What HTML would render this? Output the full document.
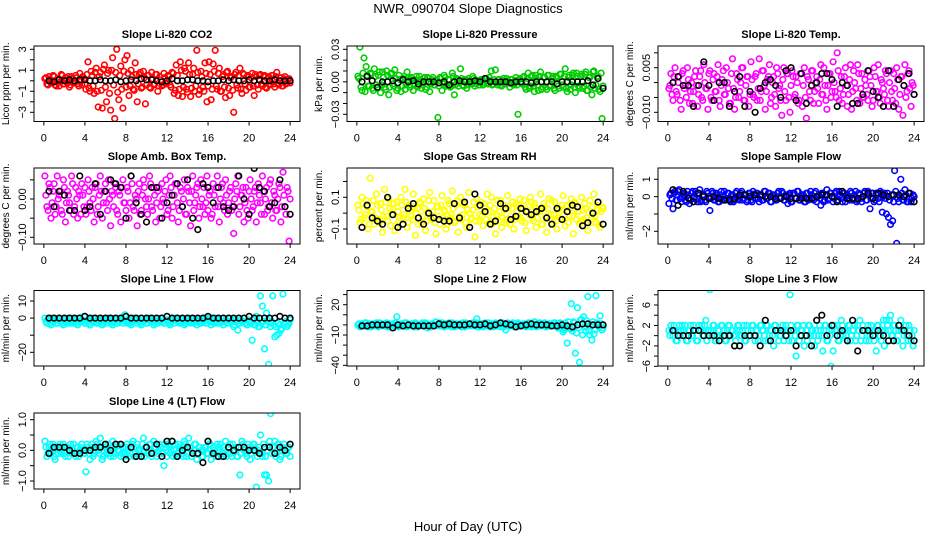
<!DOCTYPE html>
<html><head><meta charset="utf-8"><title>NWR_090704 Slope Diagnostics</title>
<style>
html,body{margin:0;padding:0;background:#fff;}
svg{display:block;font-family:"Liberation Sans",sans-serif;}
</style></head>
<body>
<svg id="chart" width="936" height="540" viewBox="0 0 936 540">
<text x="468" y="13" text-anchor="middle" font-size="13">NWR_090704  Slope Diagnostics</text>
<text x="468" y="531" text-anchor="middle" font-size="13">Hour of Day (UTC)</text>
</svg>
<script>
// shared time axes (hours UTC)
const hoursC = [0.1,0.3,0.5,0.7,0.9,1.1,1.3,1.5,1.7,1.9,2.1,2.3,2.5,2.7,2.9,3.1,3.3,3.5,3.7,3.9,
4.1,4.3,4.5,4.7,4.9,5.1,5.3,5.5,5.7,5.9,6.1,6.3,6.5,6.7,6.9,7.1,7.3,7.5,7.7,7.9,
8.1,8.3,8.5,8.7,8.9,9.1,9.3,9.5,9.7,9.9,10.1,10.3,10.5,10.7,10.9,11.1,11.3,11.5,11.7,11.9,
12.1,12.3,12.5,12.7,12.9,13.1,13.3,13.5,13.7,13.9,14.1,14.3,14.5,14.7,14.9,15.1,15.3,15.5,15.7,15.9,
16.1,16.3,16.5,16.7,16.9,17.1,17.3,17.5,17.7,17.9,18.1,18.3,18.5,18.7,18.9,19.1,19.3,19.5,19.7,19.9,
20.1,20.3,20.5,20.7,20.9,21.1,21.3,21.5,21.7,21.9,22.1,22.3,22.5,22.7,22.9,23.1,23.3,23.5,23.7,23.9];
const hoursB = [0.2,0.4,0.6,0.8,1,1.2,1.4,1.6,1.8,2,2.2,2.4,2.6,2.8,3,3.2,3.4,3.6,3.8,4,
4.2,4.4,4.6,4.8,5,5.2,5.4,5.6,5.8,6,6.2,6.4,6.6,6.8,7,7.2,7.4,7.6,7.8,8,
8.2,8.4,8.6,8.8,9,9.2,9.4,9.6,9.8,10,10.2,10.4,10.6,10.8,11,11.2,11.4,11.6,11.8,12,
12.2,12.4,12.6,12.8,13,13.2,13.4,13.6,13.8,14,14.2,14.4,14.6,14.8,15,15.2,15.4,15.6,15.8,16,
16.2,16.4,16.6,16.8,17,17.2,17.4,17.6,17.8,18,18.2,18.4,18.6,18.8,19,19.2,19.4,19.6,19.8,20,
20.2,20.4,20.6,20.8,21,21.2,21.4,21.6,21.8,22,22.2,22.4,22.6,22.8,23,23.2,23.4,23.6,23.8,24];
const hoursK = [0.5,1,1.5,2,2.5,3,3.5,4,4.5,5,5.5,6,6.5,7,7.5,8,8.5,9,9.5,10,10.5,11,11.5,12,
12.5,13,13.5,14,14.5,15,15.5,16,16.5,17,17.5,18,18.5,19,19.5,20,20.5,21,21.5,22,22.5,23,23.5,24];
const xTicks = [0,4,8,12,16,20,24];

// Panel 1: CO2 (unit 0.1 ppm/min)
const co2C = [2,-3,4,-2,5,-4,1,-5,6,-3,3,-2,-6,4,-1,5,-3,7,-4,2,
-8,18,-10,5,-12,12,-25,8,-26,15,-20,10,-28,22,-36,30,-18,14,-26,20,
24,-14,10,-8,17,-20,6,-7,9,-22,5,-6,8,-4,6,-10,4,-5,7,-3,
5,-4,8,-12,15,-14,18,-15,12,-8,17,-15,6,-10,29,-13,9,-6,17,-20,
18,-18,16,29,-8,12,-10,6,-16,9,-14,4,-30,8,-7,12,-12,6,-9,5,
-6,7,-14,4,-8,6,-5,5,-7,4,-3,5,-6,8,-4,3,-5,4,-2,2];
const co2B = [3,-4,1,-2,4,-5,2,-1,5,-3,0,4,-4,2,-2,3,-5,1,4,-3,
6,-7,9,-5,8,-10,4,-9,11,-6,7,-12,10,-4,8,-11,5,-8,9,-6,
7,-5,4,-9,6,-3,8,-6,3,-4,5,-7,2,-3,6,-5,1,-4,3,-2,
4,-6,7,-9,5,-8,10,-6,9,-11,6,-7,12,-5,8,-9,4,-10,7,-5,
6,-8,9,-5,7,-10,4,-6,8,-7,3,-9,6,-4,5,-8,7,-3,4,-6,
3,-5,6,-4,5,-3,4,-6,2,-4,5,-3,4,-2,3,-5,2,-3,1,-2];
const co2K = [0,-1,1,0,1,0,1,1,0,0,1,0,0,1,-1,0,1,0,2,1,1,0,-1,0,2,0,0,1,1,0,0,-1,0,0,1,0,1,0,0,1,0,1,0,0,1,0,0,0];
// Panel 2: pressure (unit 0.001 kPa/min)
const presC = [5,32,-8,22,14,-4,8,-6,12,-3,6,-10,9,-5,10,-12,7,-2,11,-8,
6,-9,3,-7,9,-3,4,-8,2,-5,5,-6,3,-7,4,-9,2,-3,1,-33,
4,-8,6,-4,2,-5,8,-12,3,-4,12,-3,2,-6,3,-2,5,-4,1,-3,
2,-3,3,-1,4,10,-2,11,-3,2,-4,3,-2,1,-5,2,-3,4,-30,3,
-2,5,-7,8,-4,6,-9,3,-8,9,-5,4,-7,6,-3,5,-8,4,-6,7,
-5,12,-9,6,-3,8,-10,5,-6,7,-4,9,-8,4,-12,10,-3,5,-9,-34];
const presB = [3,-5,8,-9,6,-4,7,-8,5,-6,9,-3,4,-7,6,-5,8,-4,3,-6,
2,-4,5,-3,4,-5,3,-2,5,-4,2,-3,4,-5,3,-2,4,-3,2,-4,
3,-2,4,-3,2,-4,5,-3,2,-1,3,-4,2,-3,1,-2,3,-2,1,-3,
2,-1,3,-2,1,-3,2,-1,2,-3,1,-2,3,-1,2,-2,1,-3,2,-1,
4,-5,3,-6,5,-4,6,-3,5,-7,4,-5,6,-4,3,-6,5,-4,7,-3,
5,-6,4,-7,6,-5,8,-4,5,-6,7,-8,4,-5,9,-6,5,-7,8,-4];
const presK = [0,5,1,-5,0,0,1,-1,2,0,1,-2,0,0,0,-1,0,-3,0,1,0,0,1,0,3,0,0,0,0,-1,0,0,0,-1,0,0,0,0,-2,0,0,0,0,0,1,-3,3,-6];
// Panel 3: Li-820 temp (unit 0.001 C/min)
const tempC = [-2,3,-6,5,-4,2,-9,4,-1,5,-7,0,-3,4,-8,2,-5,6,-2,-9,
4,-6,3,-3,6,-8,1,-4,5,-2,-7,8,-9,3,-5,0,5,-6,2,-8,
7,-4,2,-6,8,-3,4,-9,1,6,-5,2,-8,3,-1,-11,5,-6,3,-10,
4,-5,2,-7,3,-8,5,-12,1,-6,4,-3,2,-7,6,-4,-1,-9,3,-5,
7,-3,10,-6,2,-4,5,-8,1,-9,4,-2,6,-7,3,-5,-1,-6,2,-8,
5,-3,6,-7,0,-4,3,-8,4,-6,-2,5,-9,2,-11,6,-3,4,-8,-1];
const tempB = [-1,-4,2,-3,0,-6,3,-2,-5,1,-3,-7,2,-1,-4,4,-6,0,-2,3,
-5,1,-3,2,-6,-1,4,-4,0,-7,3,-2,-5,1,-3,5,-6,-1,2,-4,
1,-5,3,-2,-6,4,-1,-3,2,-7,0,-4,5,-2,-6,1,-3,3,-5,-1,
2,-4,0,-6,3,-1,-5,2,-3,4,-7,0,-2,1,-4,5,-6,-1,3,-3,
0,-5,4,-2,-7,2,-1,-4,6,-3,0,-6,3,-2,-5,1,-4,4,-1,-6,
2,-3,-5,1,-2,4,-6,0,-3,3,-7,1,-4,2,-1,-5,3,-2,0,-4];
const tempK = [0,2,-1,-1,-8,-1,7,-1,-6,0,0,-8,-3,2,-8,-3,-10,-2,0,1,-1,-5,4,5,-6,3,-7,-1,0,3,3,1,-8,0,-1,-7,-7,-4,4,-3,-5,-8,4,-8,1,-1,3,-4];
// Panel 4: amb box temp (unit 0.01 C/min)
const ambC = [6,-2,4,-5,2,-4,6,1,-3,5,-6,2,-1,6,-4,3,-5,1,4,-2,
-4,5,-1,3,-6,4,-2,6,-5,2,-1,5,-7,1,4,-3,2,-6,5,-1,
3,-5,6,-2,1,-7,4,-3,5,0,-4,6,-2,3,-6,2,-5,4,-1,5,
-3,6,-5,1,4,-6,3,-2,5,-4,2,-7,6,-1,3,-5,5,-2,-4,6,
1,-5,4,-2,6,-6,3,-1,5,-4,2,-3,-9,4,6,-2,1,-6,3,-5,
5,-3,2,-6,4,-1,6,-4,3,-2,5,-5,1,-3,4,-6,7,-2,3,-11];
const ambB = [1,-3,3,-1,4,-2,0,2,-4,3,-1,1,-3,4,-2,0,2,-4,1,3,
-2,2,-3,0,3,-4,1,2,-1,4,-3,0,2,-2,3,-4,1,3,-1,-3,
2,-1,4,-3,0,2,-4,1,3,-2,0,4,-3,1,-1,3,-2,0,2,-4,
1,3,-2,4,-1,-3,2,0,-4,3,-1,2,-3,1,4,-2,0,3,-1,-3,
2,-4,1,3,-2,0,4,-3,1,-1,3,-2,0,2,-4,1,3,-1,-3,2,
0,-2,3,-1,1,-4,2,0,-3,4,-1,2,-3,0,3,-2,1,-4,2,0];
const ambK = [2,-2,2,1,-3,-3,6,-3,-2,4,-4,2,5,4,3,-5,6,-1,-4,-6,3,3,-5,-1,1,4,-2,5,-5,-8,4,3,-1,3,-2,-3,-2,6,0,-4,8,3,2,-2,-1,5,-2,-4];
// Panel 5: RH (unit 0.01 %/min)
const rhC = [5,-6,10,-3,8,-10,22,1,-7,12,-4,6,-12,15,-2,9,-8,3,-11,7,
-5,10,-3,15,-9,5,-2,12,-14,3,7,-6,9,-11,1,13,-4,8,-13,4,
-7,11,2,-10,8,-3,14,-6,5,-12,10,-1,6,-9,13,-4,2,-15,9,-5,
7,-8,3,12,-6,10,-2,-13,8,1,-9,5,-4,11,-7,3,-10,6,-2,9,
-5,8,-11,4,10,-3,6,-9,2,12,-7,4,-12,9,-1,-6,7,-10,3,-4,
11,-8,5,-2,9,-13,6,1,-7,10,-4,3,-11,8,-3,12,-6,2,-9,4];
const rhB = [2,-4,6,-1,4,-7,1,8,-3,5,-6,2,-2,7,-5,3,-1,6,-8,1,
-3,5,-1,7,-6,2,-4,4,0,-7,6,-2,3,-5,8,-3,1,-6,4,-2,
5,-3,1,-7,6,-1,3,-5,8,-2,-4,5,-6,2,0,-3,7,-5,4,-1,
-2,6,-4,1,5,-7,3,-1,-5,8,-3,2,-6,4,-2,7,-4,1,5,-3,
3,-6,2,-1,7,-5,4,-3,1,-7,6,-2,3,-4,8,-1,-5,2,-3,5,
-1,4,-6,3,-2,7,-4,1,-5,2,6,-3,0,-6,4,-2,5,-7,1,3];
const rhK = [-9,5,-3,-5,-7,10,-1,-9,-7,3,6,-3,-7,0,-3,-4,-5,-5,6,-3,7,-9,12,5,1,-7,-5,6,3,-4,-2,3,1,-1,1,3,-3,-7,3,-4,1,5,4,-8,-6,0,7,-7];
// Panel 6: sample flow (unit 0.1 ml/min/min)
const sampC = [-4,2,-7,3,-2,4,-3,1,-2,3,-4,2,-1,3,-3,4,-2,1,-3,2,
-8,3,-2,2,-3,1,-2,3,-1,2,-3,1,-2,3,-1,2,-2,1,-3,2,
-2,3,-1,2,-3,1,-2,3,-1,2,-3,1,-2,2,-1,3,-2,1,-4,2,
-3,2,-1,3,-2,1,-3,2,-2,3,-1,2,-3,1,-5,2,-2,4,-1,2,
-3,2,-2,3,-1,2,-3,1,-2,2,-1,3,-2,1,-3,2,-2,3,-7,2,
-3,2,-1,3,-9,2,-10,-12,-16,-14,15,-27,-3,10,-2,4,-3,2,-3,1];
const sampB = [1,-1,2,-2,3,-1,0,2,-3,1,-2,3,0,-1,2,-3,1,-2,3,0,
-1,2,-2,1,-3,3,0,-2,2,-1,1,-3,2,0,-2,3,-1,1,-2,2,
-3,1,2,-1,0,-2,3,-1,2,-3,1,0,-2,3,-1,2,-2,0,1,-3,
2,-1,3,-2,0,1,-3,2,-1,1,-2,3,0,-1,2,-3,1,-2,2,0,
-1,3,-2,1,-3,2,0,-1,3,-2,1,-3,2,-1,0,3,-2,1,-1,2,
-2,1,-3,2,0,-1,2,-2,1,-3,3,-1,0,2,-2,1,-3,2,-1,0];
const sampK = [4,-5,3,-1,-3,2,0,-1,0,-1,-2,-2,-1,1,1,0,1,1,0,0,-1,-1,0,-1,-1,-1,-1,-1,0,1,1,0,-3,3,-1,-1,-1,0,2,-1,2,1,0,1,1,0,2,-3];
// Panel 7: line 1 flow (unit 1)
const l1C = [0,-3,-1,-4,-2,-1,-3,0,-2,-4,-1,-3,-2,0,-3,-1,-4,-2,-1,1,
-3,-1,-4,-2,0,-3,-1,-2,-4,-1,-3,0,-2,-4,-1,-3,-2,-1,-3,2,
-3,-1,-4,-2,0,-3,-1,-4,-2,-1,-3,0,-2,-4,-1,-3,-2,0,-3,-1,
-2,-4,-1,-3,0,-2,-3,-1,-4,-2,0,-3,-1,-2,-4,-1,-3,-2,0,-3,
-1,-4,-2,0,-3,-1,-2,-4,-1,-3,0,-2,-5,-1,-7,-3,-2,0,-3,-1,
-2,-13,-4,1,-5,13,7,-18,3,-27,-5,13,-11,-10,-9,-7,14,-3,-5,-3];
const l1B = [-2,-1,-3,0,-2,-3,-1,-2,-3,-1,-2,0,-3,-2,-1,-3,0,-2,-1,-3,
-2,-3,-1,0,-2,-3,-2,-1,-3,-2,0,-1,-3,-2,-1,-3,-2,0,-1,-2,
-1,-3,-2,0,-1,-2,-3,-2,-1,-3,0,-2,-1,-3,-2,-1,0,-2,-3,-1,
-3,-2,0,-1,-2,-3,-1,-2,-3,-1,-2,0,-3,-1,-2,-3,-1,-2,-3,0,
-2,-1,-3,-2,-1,-3,0,-2,-1,-3,-2,-1,-4,-2,-3,-1,-2,-3,-4,-2,
-3,-1,-4,-2,-5,-3,-2,-4,-1,-3,-2,-4,-5,-3,-4,-6,-3,-2,-4,-1];
const l1K = [0,0,0,0,0,0,0,1,0,0,0,0,0,0,0,1,0,0,0,0,0,0,0,1,0,0,0,0,0,0,0,1,0,0,0,0,0,0,0,1,0,0,0,0,0,1,0,0];
// Panel 8: line 2 flow (unit 1)
const l2C = [0,-2,1,-1,2,-2,0,1,-1,2,-2,0,1,-1,2,-2,0,1,-1,8,
-2,1,-1,2,-2,0,1,-1,2,-2,0,1,-1,2,-3,0,1,-1,3,0,
-1,2,-2,1,0,-1,2,-2,1,0,-1,2,-2,1,0,-1,2,-1,6,-2,
1,-2,2,-1,0,1,-2,2,-1,0,1,-2,-5,2,-1,0,1,-2,2,-1,
0,1,-2,2,-1,0,3,-2,1,-1,0,2,-2,1,-1,0,2,-2,1,-3,
-7,2,-18,-3,21,3,-28,17,-37,5,8,-6,28,-10,-15,-9,29,1,9,-5];
const l2B = [1,-1,0,2,-1,1,-2,0,1,-1,2,0,-1,1,-2,1,0,-1,2,-1,
0,1,-1,2,-1,0,1,-2,1,0,-1,2,-1,1,0,-2,1,-1,0,2,
-1,0,1,-1,2,-2,0,1,-1,1,-2,0,2,-1,1,0,-1,2,-2,0,
1,-1,0,2,-2,1,0,-1,1,-2,2,0,-1,1,-1,2,-2,0,1,-1,
1,0,-1,2,-2,1,-1,0,2,-1,1,-2,0,1,-1,2,0,-3,2,-4,
-5,-2,3,-4,-6,2,-8,-3,5,-10,-2,4,-6,-1,3,-5,2,-2,1,-3];
const l2K = [-1,-1,0,0,0,0,-3,0,-1,0,-1,-1,-1,-1,-1,1,0,1,0,0,0,1,0,0,1,-1,0,2,1,0,-2,-1,0,1,0,0,0,-1,-1,0,-1,-2,0,1,1,0,0,0];
// Panel 9: line 3 flow (unit 1)
const l3C = [1,2,0,1,-1,2,1,0,2,-1,1,0,2,1,-1,1,2,0,3,1,
9,0,2,-1,1,0,2,1,-1,2,0,1,-2,1,2,0,1,-1,2,0,
1,2,-1,1,0,2,1,-1,2,0,1,-2,2,1,0,1,-1,2,1,8,
-1,1,-4,2,0,1,-2,1,2,0,1,-2,3,0,1,-3,2,-1,1,-6,
-3,1,2,-1,3,0,1,-1,2,0,1,-1,2,3,0,1,-1,2,0,1,
-1,-3,2,0,1,-2,3,1,4,0,2,-1,1,3,-2,1,0,2,-1,-2];
const l3B = [0,1,2,-1,1,0,2,1,-1,1,2,0,1,-1,2,1,0,2,-1,1,
1,2,-1,0,1,2,0,-1,1,2,1,0,-1,2,1,0,2,-1,1,0,
2,0,1,-1,2,1,0,2,-1,1,0,2,1,-1,0,2,1,0,-1,2,
1,0,2,-1,1,2,0,-1,2,1,0,1,-1,2,0,1,2,-1,0,1,
2,1,-1,0,2,1,0,2,-1,1,2,0,1,-1,2,1,0,-1,2,0,
1,2,0,-1,3,1,2,3,0,2,1,-1,2,1,0,2,-1,1,0,1];
const l3K = [1,0,0,0,1,1,0,0,0,-1,0,0,-2,-2,0,0,0,-2,3,-1,1,1,0,1,-2,0,0,-2,3,4,0,2,0,1,-1,3,-3,1,1,0,1,0,-1,-1,2,1,0,-1];
// Panel 10: line 4 flow (unit 0.1)
const l4C = [3,-2,1,-1,2,-3,1,0,-1,2,-2,1,0,-1,2,-2,1,0,2,-1,
-7,1,-3,2,-1,3,0,4,-3,1,-1,2,-2,3,-1,2,0,-2,1,-1,
2,-2,1,3,-1,2,0,-2,4,1,-1,2,-2,3,1,-1,2,-1,-5,1,
2,-1,3,0,-2,2,1,-1,3,-2,4,1,-1,2,-3,1,0,-2,1,-1,
2,-3,1,-1,2,0,-2,1,3,-1,2,-2,0,1,-2,-8,3,0,-1,2,
-3,1,2,-12,0,5,-2,-8,-8,-10,12,1,3,-1,2,-2,1,0,-1,1];
const l4B = [1,-1,2,0,-2,1,-1,2,0,-1,1,-2,2,0,-1,1,-2,1,0,-1,
2,-1,1,-2,0,2,-1,1,-2,2,0,-1,1,-2,1,0,2,-1,-2,1,
0,-1,2,-2,1,0,-1,2,-2,1,0,2,-1,1,-2,0,1,-1,2,-2,
1,0,-2,2,-1,1,0,-2,2,-1,1,-2,0,2,-1,1,-2,0,1,-1,
2,-1,0,-2,1,2,-1,0,-2,1,-1,2,0,-2,1,-1,2,0,-2,1,
-1,2,0,-2,1,-1,2,-2,0,3,-1,1,-2,2,-3,0,2,-1,1,-2];
const l4K = [-1,1,1,1,0,-1,-1,0,0,1,1,2,0,2,2,-3,1,-2,-2,1,-1,2,-2,3,3,-2,0,1,-1,-1,-4,3,-1,-2,-2,1,0,1,1,0,0,-1,1,1,-1,1,0,2];

// tick values
const co2Ticks=[-3,-2,-1,0,1,2,3], co2Labels=[-3,-1,1,3];
const presTicks=[-0.03,-0.02,-0.01,0,0.01,0.02,0.03], presLabels=[-0.03,0,0.03];
const tempTicks=[-0.01,-0.005,0,0.005,0.01], tempLabels=[-0.01,0.005];
const ambTicks=[-0.1,-0.05,0,0.05], ambLabels=[-0.1,0];
const rhTicks=[-0.1,0,0.1,0.2], rhLabels=[-0.1,0.1];
const sampTicks=[-2,-1,0,1], sampLabels=[-2,0,1];
const l1Ticks=[-20,-10,0,10], l1Labels=[-20,0,10];
const l2Ticks=[-40,-30,-20,-10,0,10,20,30], l2Labels=[-40,-10,20];
const l3Ticks=[-6,-4,-2,0,2,4,6,8], l3Labels=[-6,-2,2,6];
const l4Ticks=[-1,-0.5,0,0.5,1], l4Labels=[-1,0,1];

const panels = [
 {id:'co2',title:'Slope Li-820 CO2',ylab:'Licor ppm per min.',col:0,row:0,color:'#ff0000',unit:0.1,c:co2C,b:co2B,k:co2K,ref:[3,49.3,-3,112.3],ticks:co2Ticks,labels:co2Labels,fmt:v=>String(v)},
 {id:'pressure',title:'Slope Li-820 Pressure',ylab:'kPa per min.',col:1,row:0,color:'#00cd00',unit:0.001,c:presC,b:presB,k:presK,ref:[0.03,49.3,-0.03,114.3],ticks:presTicks,labels:presLabels,fmt:v=>v.toFixed(2)},
 {id:'li820-temp',title:'Slope Li-820 Temp.',ylab:'degrees C per min.',col:2,row:0,color:'#ff00ff',unit:0.001,c:tempC,b:tempB,k:tempK,ref:[0.005,67.7,-0.01,112.3],ticks:tempTicks,labels:tempLabels,fmt:v=>v.toFixed(3)},
 {id:'amb-box-temp',title:'Slope Amb. Box Temp.',ylab:'degrees C per min.',col:0,row:1,color:'#ff00ff',unit:0.01,c:ambC,b:ambB,k:ambK,ref:[0,199,-0.1,237.3],ticks:ambTicks,labels:ambLabels,fmt:v=>v.toFixed(2)},
 {id:'gas-rh',title:'Slope Gas Stream RH',ylab:'percent per min.',col:1,row:1,color:'#ffff00',unit:0.01,c:rhC,b:rhB,k:rhK,ref:[0.1,197.3,-0.1,229],ticks:rhTicks,labels:rhLabels,fmt:v=>v.toFixed(1)},
 {id:'sample-flow',title:'Slope Sample Flow',ylab:'ml/min per min.',col:2,row:1,color:'#0000ff',unit:0.1,c:sampC,b:sampB,k:sampK,ref:[1,179.3,-2,231.3],ticks:sampTicks,labels:sampLabels,fmt:v=>String(v)},
 {id:'line1-flow',title:'Slope Line 1 Flow',ylab:'ml/min per min.',col:0,row:2,color:'#00ffff',unit:1,c:l1C,b:l1B,k:l1K,ref:[10,301,-20,352.3],ticks:l1Ticks,labels:l1Labels,fmt:v=>String(v)},
 {id:'line2-flow',title:'Slope Line 2 Flow',ylab:'ml/min per min.',col:1,row:2,color:'#00ffff',unit:1,c:l2C,b:l2B,k:l2K,ref:[20,304.7,-40,365.3],ticks:l2Ticks,labels:l2Labels,fmt:v=>String(v)},
 {id:'line3-flow',title:'Slope Line 3 Flow',ylab:'ml/min per min.',col:2,row:2,color:'#00ffff',unit:1,c:l3C,b:l3B,k:l3K,ref:[6,305,-6,366.3],ticks:l3Ticks,labels:l3Labels,fmt:v=>String(v)},
 {id:'line4-flow',title:'Slope Line 4 (LT) Flow',ylab:'ml/min per min.',col:0,row:3,color:'#00ffff',unit:0.1,c:l4C,b:l4B,k:l4K,ref:[1,419.7,-1,481],ticks:l4Ticks,labels:l4Labels,fmt:v=>v.toFixed(1)}
];

const X0=[34,347,658], X1=[300,613,924];
const Y0=[46,168,290.5,413], Y1=[121.5,244,366,489];
const NS='http://www.w3.org/2000/svg';
const svg=document.getElementById('chart');
function mk(tag,attrs,parent){const e=document.createElementNS(NS,tag);for(const a in attrs)e.setAttribute(a,attrs[a]);(parent||svg).appendChild(e);return e;}

panels.forEach(p=>{
  const x0=X0[p.col],x1=X1[p.col],y0=Y0[p.row],y1=Y1[p.row];
  const xs=h=>x0+(h+0.96)/25.92*(x1-x0);
  const [v1,p1,v2,p2]=p.ref;
  const ys=v=>p1+(v-v1)*(p2-p1)/(v2-v1);
  const g=mk('g',{});
  
  
  const clipId='clip-'+p.id;
  const cp=mk('clipPath',{id:clipId},g);
  mk('rect',{x:x0,y:y0,width:x1-x0,height:y1-y0},cp);
  const t=mk('text',{x:(x0+x1)/2,y:y0-8,'text-anchor':'middle','font-size':'11','font-weight':'bold'},g);
  t.textContent=p.title;
  
  
  const yl=mk('text',{x:0,y:0,'text-anchor':'middle','font-size':'10',transform:`translate(${x0-25},${(y0+y1)/2}) rotate(-90)`},g);
  yl.textContent=p.ylab;
  
  
  const pts=mk('g',{'clip-path':`url(#${clipId})`},g);
  
  
  p.c.forEach((v,i)=>{
    const c=mk('circle',{cx:xs(hoursC[i]).toFixed(1),cy:ys(v*p.unit).toFixed(1),r:2.8,fill:'none',stroke:p.color,'stroke-width':1.6},pts);
    
    
  });
  p.b.forEach((v,i)=>{
    const c=mk('circle',{cx:xs(hoursB[i]).toFixed(1),cy:ys(v*p.unit).toFixed(1),r:2.8,fill:'none',stroke:p.color,'stroke-width':1.6},pts);
    
    
  });
  p.k.forEach((v,i)=>{
    const c=mk('circle',{cx:xs(hoursK[i]).toFixed(1),cy:ys(v*p.unit).toFixed(1),r:2.8,fill:'none',stroke:'#000','stroke-width':1.6},pts);
    
    
  });
  const box=mk('rect',{x:x0,y:y0,width:x1-x0,height:y1-y0,fill:'none',stroke:'#000','stroke-width':1},g);
  
  
  xTicks.forEach(h=>{
    const x=xs(h);
    mk('line',{x1:x,x2:x,y1:y1,y2:y1+4,stroke:'#000'},g);
    const lt=mk('text',{x:x,y:y1+20,'text-anchor':'middle','font-size':'11'},g);
    lt.textContent=h;
    
    
  });
  p.ticks.forEach(v=>{
    const y=ys(v);
    mk('line',{x1:x0-4,x2:x0,y1:y,y2:y,stroke:'#000'},g);
  });
  p.labels.forEach(v=>{
    const y=ys(v);
    const lt=mk('text',{x:0,y:0,'text-anchor':'middle','font-size':'11',transform:`translate(${x0-8},${y}) rotate(-90)`},g);
    lt.textContent=p.fmt(v).replace('-','\u2212');
    
    
  });
});
</script>
</body></html>
